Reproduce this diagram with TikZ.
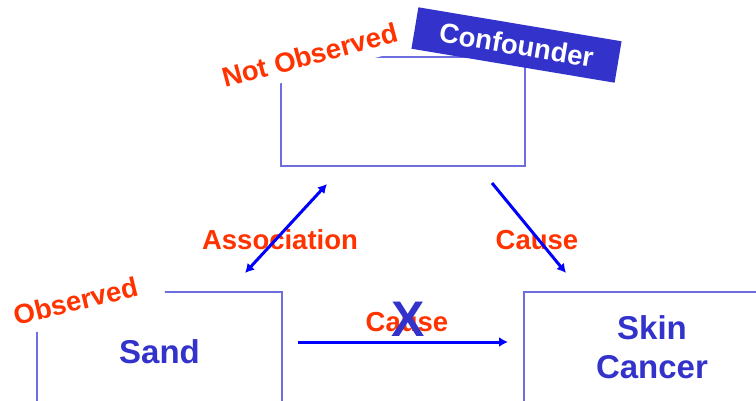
\documentclass[tikz,border=0pt]{standalone}
\usepackage{fontspec}
\setmainfont{Liberation Sans}
\usetikzlibrary{arrows.meta}
\definecolor{lblred}{RGB}{255,51,0}
\definecolor{txtblue}{RGB}{51,51,204}
\definecolor{boxline}{RGB}{110,110,225}
\definecolor{arrblue}{RGB}{0,0,255}
\begin{document}
\begin{tikzpicture}[x=1pt,y=-1pt,
  box/.style={draw=boxline, line width=1.2pt, inner sep=0pt},
  lbl/.style={text=lblred, font=\fontsize{27.5}{30}\selectfont\bfseries, inner sep=0pt},
  vname/.style={text=txtblue, font=\fontsize{33}{39}\selectfont\bfseries, align=center},
  arr/.style={draw=arrblue, line width=3pt, -{Latex[length=9pt,width=10pt]}},
  darr/.style={draw=arrblue, line width=3pt, {Latex[length=9pt,width=10pt]}-{Latex[length=9pt,width=10pt]}}]
\useasboundingbox (0,0) rectangle (756,400);
\clip (0,0) rectangle (756,400);
% boxes
\node[box, minimum width=244pt, minimum height=109pt] (conf) at (403,111.5) {};
\node[box, vname, minimum width=245pt, minimum height=120pt] (sand) at (159.5,352) {Sand};
\node[box, vname, minimum width=256pt, minimum height=111pt] (skin) at (652,347.5) {Skin\\Cancer};
% state labels
\node[lbl, fill=white, rotate=15, inner xsep=6pt, inner ysep=9.5pt] (notobs) at (310,55) {Not Observed};
\node[lbl, fill=white, rotate=13.5, inner xsep=25pt, inner ysep=10.8pt] (obs) at (76,301) {Observed};
\node[fill=txtblue, text=white, font=\fontsize{27.5}{30}\selectfont\bfseries, rotate=-9.5,
      minimum width=206pt, minimum height=42pt, inner sep=0pt] (cfl) at (516.5,45) {Confounder};
% edge labels
\node[lbl] (assoc) at (280,240) {Association};
\node[lbl] (cause1) at (537,240) {Cause};
\node[lbl] (cause2) at (407,322) {Cause};
\node[text=txtblue, font=\fontsize{50}{55}\selectfont\bfseries, inner sep=0pt] (xmark) at (408,319) {X};
% arrows
\coordinate (a1) at (245,273);
\coordinate (a2) at (327,184);
\coordinate (c1) at (492,183);
\coordinate (c2) at (566,273);
\coordinate (h1) at (298,342);
\coordinate (h2) at (508,342);
\draw[darr] (a1) -- (a2);
\draw[arr] (c1) -- (c2);
\draw[arr] (h1) -- (h2);
\end{tikzpicture}
\end{document}
